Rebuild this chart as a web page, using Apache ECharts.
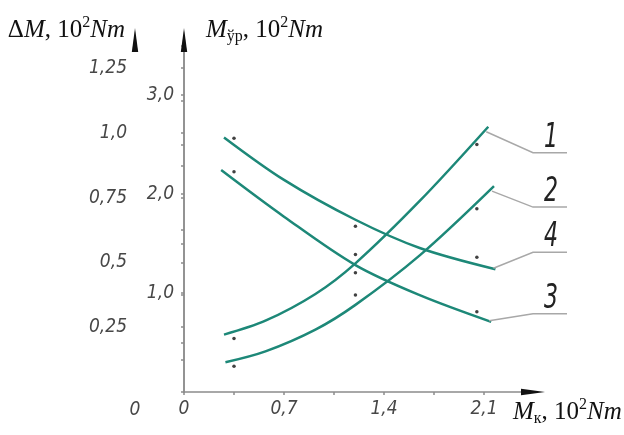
<!DOCTYPE html>
<html><head><meta charset="utf-8">
<script src="https://cdn.jsdelivr.net/npm/echarts@6/dist/echarts.min.js"></script>
<style>html,body{margin:0;padding:0;background:#fff}#c{width:624px;height:435px}</style>
</head><body><div id="c"></div>
<script>
// ---- data ----
const xTickValues = [0, 0.7, 1.4, 2.1];
const xTickLabels = ['0', '0,7', '1,4', '2,1'];
const dmTickValues = [0.25, 0.5, 0.75, 1.0, 1.25];
const dmTickLabels = ['0,25', '0,5', '0,75', '1,0', '1,25'];
const myrTickValues = [1, 2, 3];
const myrTickLabels = ['1,0', '2,0', '3,0'];
const curveNames = ['1', '2', '3', '4'];

// curves 1, 2 : M_ўр axis ; curves 3, 4 : ΔM axis
const curve1X = [0.28, 0.57, 0.92, 1.20, 1.65, 2.13];
const curve1Y = [0.58, 0.72, 0.99, 1.30, 1.93, 2.68];
const curve2X = [0.29, 0.57, 0.92, 1.20, 1.65, 2.17];
const curve2Y = [0.30, 0.41, 0.63, 0.88, 1.38, 2.08];
const curve3X = [0.26, 0.70, 1.20, 1.65, 2.15];
const curve3Y = [0.857, 0.677, 0.490, 0.374, 0.271];
const curve4X = [0.28, 0.70, 1.20, 1.65, 2.18];
const curve4Y = [0.983, 0.819, 0.665, 0.556, 0.474];

const dotX = [0.35, 1.2, 2.05];
const dots1 = [0.54, 1.39, 2.50];
const dots2 = [0.26, 0.98, 1.85];
const dots3 = [0.85, 0.46, 0.31];
const dots4 = [0.98, 0.64, 0.52];

// ---- chart ----
const GREEN = '#1d8878';
const AXIS = '#8c8c8c';
const TICKC = '#474747';
const TFAM = '"DejaVu Sans Condensed", "DejaVu Sans", sans-serif';
const tickFont = {fontFamily: TFAM, fontStyle: 'italic', fontSize: 19, color: TICKC};
const rich = {
  n: {fontFamily: 'Liberation Serif', fontSize: 25, color: '#111', lineHeight: 30},
  i: {fontFamily: 'Liberation Serif', fontStyle: 'italic', fontSize: 25, color: '#111', lineHeight: 30},
  sup: {fontFamily: 'Liberation Serif', fontSize: 16, color: '#111', lineHeight: 22, verticalAlign: 'top'},
  sub: {fontFamily: 'Liberation Serif', fontSize: 16, color: '#111', lineHeight: 22, verticalAlign: 'bottom'}
};
function zip(a, b) { return a.map((v, i) => [v, b[i]]); }
function fmt(values, labels) {
  return function (v) {
    for (let i = 0; i < values.length; i++) if (Math.abs(v - values[i]) < 1e-6) return labels[i];
    return '';
  };
}
const chart = echarts.init(document.getElementById('c'), null, {renderer: 'canvas'});
const lineS = (name, xs, ys, yi) => ({
  type: 'line', name: name, yAxisIndex: yi, data: zip(xs, ys), smooth: 0.33, symbol: 'none',
  lineStyle: {color: GREEN, width: 2.5}, silent: true, z: 2
});
const dotS = (ys, yi) => ({
  type: 'scatter', yAxisIndex: yi, data: zip(dotX, ys), symbolSize: 3.5,
  itemStyle: {color: '#111'}, silent: true, z: 3
});
chart.setOption({
  animation: false,
  backgroundColor: '#fff',
  grid: {left: 184, right: 91, top: 40, bottom: 43, containLabel: false, outerBoundsMode: 'none'},
  xAxis: {
    type: 'value', min: 0, max: 2.443, interval: 0.35,
    axisLine: {lineStyle: {color: AXIS, width: 1.5}},
    axisTick: {length: 3, lineStyle: {color: AXIS, width: 1.5}},
    splitLine: {show: false},
    axisLabel: Object.assign({margin: 8, formatter: fmt(xTickValues, xTickLabels), showMaxLabel: false}, tickFont),
    name: '{i|M}{sub|к}{n|, 10}{sup|2}{i|Nm}', nameLocation: 'end', nameGap: -20,
    nameTextStyle: {align: 'left', verticalAlign: 'top', padding: [5, 0, 0, 0], rich: rich}
  },
  yAxis: [{
    type: 'value', position: 'left', offset: 49, min: 0, max: 1.359, interval: 0.125,
    axisLine: {show: true, lineStyle: {color: AXIS, width: 1.5}},
    axisTick: {show: true, length: 3, lineStyle: {color: AXIS, width: 1.5}},
    splitLine: {show: false},
    axisLabel: Object.assign({margin: 8, formatter: fmt(dmTickValues, dmTickLabels), showMaxLabel: false}, tickFont),
    name: '{n|Δ}{i|M}{n|, 10}{sup|2}{i|Nm}', nameLocation: 'end', nameGap: 10,
    nameTextStyle: {align: 'right', verticalAlign: 'middle', padding: [0, 59, 0, 0], rich: rich}
  }, {
    type: 'value', position: 'left', offset: 0, min: 0, max: 3.556, interval: 0.5,
    axisLine: {show: true, lineStyle: {color: AXIS, width: 1.5}},
    axisTick: {show: true, length: 3, lineStyle: {color: AXIS, width: 1.5}},
    splitLine: {show: false},
    axisLabel: Object.assign({margin: 10, formatter: fmt(myrTickValues, myrTickLabels), showMaxLabel: false}, tickFont),
    name: '{i|M}{sub|ўр}{n|, 10}{sup|2}{i|Nm}', nameLocation: 'end', nameGap: 10,
    nameTextStyle: {align: 'left', verticalAlign: 'middle', padding: [0, 0, 0, 22], rich: rich}
  }],
  series: [
    lineS(curveNames[0], curve1X, curve1Y, 1),
    lineS(curveNames[1], curve2X, curve2Y, 1),
    lineS(curveNames[2], curve3X, curve3Y, 0),
    lineS(curveNames[3], curve4X, curve4Y, 0),
    dotS(dots1, 1), dotS(dots2, 1), dotS(dots3, 0), dotS(dots4, 0)
  ]
});

// ---- annotations: arrowheads, leader lines, curve numbers ----
const g = [];
const toPx = (x, y, yi) => chart.convertToPixel({xAxisIndex: 0, yAxisIndex: yi}, [x, y]);
const origin = toPx(0, 0, 1);
const xEnd = toPx(2.443, 0, 1);
const yEnd1 = toPx(0, 3.556, 1);
const yEnd0 = toPx(0, 1.359, 0);
const leftAxisX = origin[0] - 49;
function arrowUp(x, y) {
  return {type: 'polygon', shape: {points: [[x, y - 12], [x - 3.2, y + 12], [x + 3.2, y + 12]]}, style: {fill: '#111'}, z: 10};
}
g.push(arrowUp(origin[0], yEnd1[1]));
g.push(arrowUp(leftAxisX, yEnd0[1]));
g.push({type: 'polygon', shape: {points: [[xEnd[0] + 12, xEnd[1]], [xEnd[0] - 12, xEnd[1] - 3.2], [xEnd[0] - 12, xEnd[1] + 3.2]]}, style: {fill: '#111'}, z: 10});
// zero label under the ΔM axis
g.push({type: 'text', z: 10, style: {text: '0', x: leftAxisX, y: origin[1] + 18, font: 'italic 19px ' + TFAM, fill: TICKC, align: 'center', verticalAlign: 'middle', textAlign: 'center', textVerticalAlign: 'middle'}});

const ends = [
  {p: toPx(curve1X[curve1X.length - 1], curve1Y[curve1Y.length - 1], 1), dy: 26, name: curveNames[0]},
  {p: toPx(curve2X[curve2X.length - 1], curve2Y[curve2Y.length - 1], 1), dy: 21, name: curveNames[1]},
  {p: toPx(curve3X[curve3X.length - 1], curve3Y[curve3Y.length - 1], 0), dy: -8, name: curveNames[2]},
  {p: toPx(curve4X[curve4X.length - 1], curve4Y[curve4Y.length - 1], 0), dy: -17, name: curveNames[3]}
];
const kneeX = xEnd[0];
ends.forEach(e => {
  const sx = e.p[0] - 2, sy = e.p[1] + (e.dy > 0 ? 5 : -1);
  const ky = e.p[1] + e.dy;
  g.push({type: 'polyline', shape: {points: [[sx, sy], [kneeX, ky], [kneeX + 34, ky]]}, style: {stroke: '#a8a8a8', lineWidth: 1.5, fill: null}, z: 5});
  g.push({type: 'text', z: 10, x: kneeX + 18, y: ky - 15, scaleX: 0.72, style: {text: e.name, x: 0, y: 0, font: 'italic 34px ' + TFAM, fill: '#222', align: 'center', verticalAlign: 'middle', textAlign: 'center', textVerticalAlign: 'middle'}});
});
chart.setOption({graphic: g});
</script></body></html>
